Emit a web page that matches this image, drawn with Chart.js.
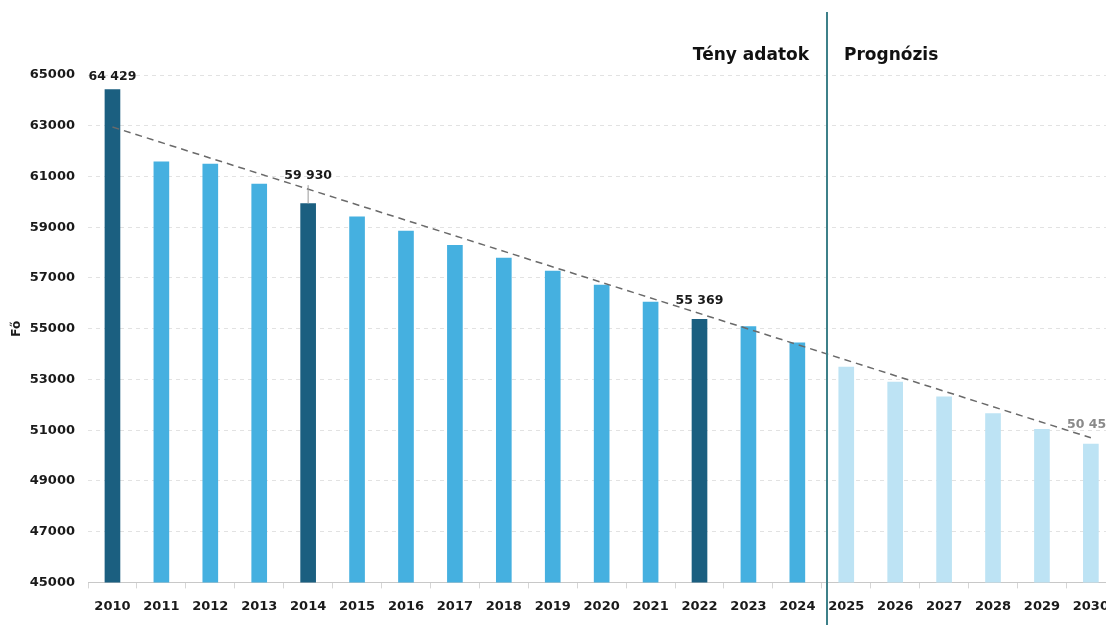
<!DOCTYPE html>
<html>
<head>
<meta charset="utf-8">
<script src="https://cdn.jsdelivr.net/npm/chart.js@4.4.1/dist/chart.umd.min.js"></script>
<style>
  html, body { margin: 0; padding: 0; background: #fff; overflow: hidden; }
  #wrap { width: 1119px; height: 625px; }
</style>
</head>
<body>
<div id="wrap"><canvas id="chart"></canvas></div>
<script>
// Évek és létszám (Fő)
const years = ['2010','2011','2012','2013','2014','2015','2016','2017','2018','2019','2020',
               '2021','2022','2023','2024','2025','2026','2027','2028','2029','2030'];
const values = [64429, 61580, 61490, 60700, 59930, 59410, 58850, 58290, 57780, 57270, 56716,
                56045, 55369, 55080, 54440, 53490, 52900, 52310, 51655, 51036, 50450];
// trendvonal: csak a két végpont
const trend = [62950, null, null, null, null, null, null, null, null, null, null,
               null, null, null, null, null, null, null, null, null, 50700];
// kiemelt évek, amelyekhez címke tartozik
const labelled = ['2010', '2014', '2022', '2030'];
const lastActual = '2024';

const yTicks = { min: 45000, max: 65000, step: 2000 };

const colDark = '#1b5f80';
const colMid = '#45b0e0';
const colLight = '#bde3f4';

const actualEnd = years.indexOf(lastActual);
const barColors = years.map((y, i) => {
    if (i > actualEnd) return colLight;
    if (labelled.includes(y)) return colDark;
    return colMid;
});

const fmt = v => String(v).replace(/\B(?=(\d{3})+(?!\d))/g, ' ');
const FONT = '"DejaVu Sans", sans-serif';

// Címkék, elválasztó vonal és fejlécek
const overlay = {
    id: 'overlay',
    afterDatasetsDraw(chart) {
        const ctx = chart.ctx;
        const x = chart.scales.x;
        const y = chart.scales.y;
        const bars = chart.getDatasetMeta(0).data;
        const n = years.length - 1;

        ctx.save();
        ctx.font = 'bold 12.5px ' + FONT;
        ctx.textAlign = 'center';
        ctx.textBaseline = 'middle';
        labelled.forEach(yr => {
            const i = years.indexOf(yr);
            const bar = bars[i];
            const t = trend[0] + (trend[n] - trend[0]) * i / n;
            const ty = y.getPixelForValue(t);
            const top = Math.min(bar.y, ty);
            const ly = top - 13;
            const forecast = i > actualEnd;
            ctx.fillStyle = forecast ? '#8a8a8a' : '#1a1a1a';
            ctx.fillText(fmt(values[i]), bar.x, ly);
            if (bar.y - ly > 20) {
                ctx.strokeStyle = '#999';
                ctx.lineWidth = 1;
                ctx.beginPath();
                ctx.moveTo(bar.x, ly + 9);
                ctx.lineTo(bar.x, bar.y);
                ctx.stroke();
            }
        });

        // elválasztó a tény és prognózis adatok között
        const p0 = x.getPixelForValue(actualEnd);
        const p1 = x.getPixelForValue(actualEnd + 1);
        const sx = Math.round(p0 + (p1 - p0) * 0.6);
        ctx.strokeStyle = '#3d8089';
        ctx.lineWidth = 2;
        ctx.beginPath();
        ctx.moveTo(sx, 12);
        ctx.lineTo(sx, chart.height);
        ctx.stroke();

        ctx.fillStyle = '#111';
        ctx.font = 'bold 17px ' + FONT;
        ctx.textAlign = 'right';
        ctx.fillText('Tény adatok', sx - 18, 56);
        ctx.textAlign = 'left';
        ctx.fillText('Prognózis', sx + 17, 56);
        ctx.restore();
    }
};

new Chart(document.getElementById('chart'), {
    data: {
        labels: years,
        datasets: [
            {
                type: 'bar',
                data: values,
                backgroundColor: barColors,
                barThickness: 15,
                order: 2
            },
            {
                type: 'line',
                data: trend,
                spanGaps: true,
                borderColor: '#6a6a6a',
                borderWidth: 1.5,
                borderDash: [7, 5],
                pointRadius: 0,
                fill: false,
                order: 1
            }
        ]
    },
    options: {
        responsive: true,
        maintainAspectRatio: false,
        animation: false,
        layout: { padding: { top: 75, right: 2, bottom: 1, left: 0 } },
        plugins: {
            legend: { display: false },
            tooltip: { enabled: false }
        },
        scales: {
            x: {
                offset: true,
                grid: { drawOnChartArea: false, drawTicks: true, tickLength: 6, color: '#d6d6d6', offset: true },
                border: { display: true, color: '#c8c8c8' },
                ticks: { color: '#1a1a1a', font: { family: FONT, size: 13, weight: 'bold' }, padding: 10, maxRotation: 0, autoSkip: false }
            },
            y: {
                min: yTicks.min,
                max: yTicks.max,
                afterFit(s) { s.width = 88; },
                grid: { color: '#e2e2e2', drawTicks: false },
                border: { display: false, dash: [4, 4] },
                ticks: {
                    stepSize: yTicks.step,
                    color: '#1a1a1a',
                    padding: 13,
                    font: { family: FONT, size: 13, weight: 'bold' },
                    callback: v => String(v)
                },
                title: {
                    display: true,
                    text: 'Fő',
                    color: '#1a1a1a',
                    font: { family: FONT, size: 12, weight: 'bold' },
                    padding: { top: 10, bottom: 0 }
                }
            }
        }
    },
    plugins: [overlay]
});
</script>
</body>
</html>
